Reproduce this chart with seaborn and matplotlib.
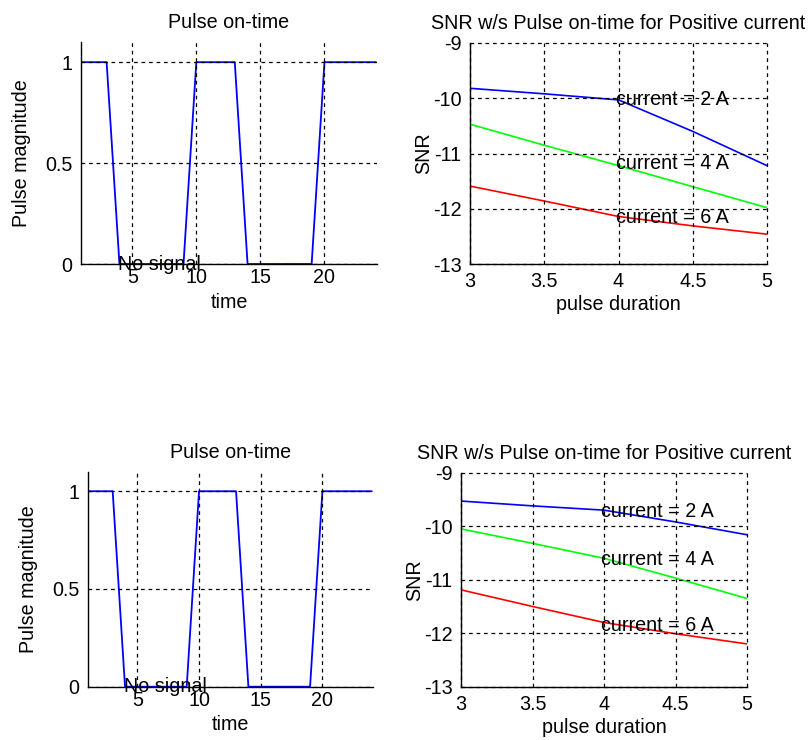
import numpy as np
import pandas as pd
import matplotlib
matplotlib.use("Agg")
import matplotlib.pyplot as plt
import seaborn as sns

# pulse on-time data (same in both rows)
pulse_t = [1, 3, 4, 9, 10, 13, 14, 19, 20, 24]
pulse_mag = [1, 1, 0, 0, 1, 1, 0, 0, 1, 1]

# SNR vs pulse duration
duration = [3, 3.5, 4, 4.5, 5]
snr_top_2A = [-9.82, -9.92, -10.03, -10.60, -11.22]
snr_top_4A = [-10.47, -10.85, -11.22, -11.60, -11.98]
snr_top_6A = [-11.59, -11.86, -12.14, -12.31, -12.46]
snr_bot_2A = [-9.53, -9.62, -9.70, -9.92, -10.16]
snr_bot_4A = [-10.05, -10.32, -10.60, -10.97, -11.35]
snr_bot_6A = [-11.19, -11.50, -11.80, -12.01, -12.20]
labels = ["current = 2 A", "current = 4 A", "current = 6 A"]
label_y_top = [-10.02, -11.19, -12.15]
label_y_bot = [-9.72, -10.62, -11.85]

FS = 14.2

sns.set_style("white")
plt.rcParams['font.family'] = ['Liberation Sans', 'DejaVu Sans']
plt.rcParams['font.size'] = FS
plt.rcParams['axes.unicode_minus'] = False
plt.rcParams['text.color'] = 'black'
plt.rcParams['axes.labelcolor'] = 'black'
plt.rcParams['xtick.color'] = 'black'
plt.rcParams['ytick.color'] = 'black'

fig = plt.figure(figsize=(8.09, 7.4), dpi=100)
pos = [
    [81/809, 1-264/740, 296/809, 222/740],
    [470/809, 1-264/740, 297/809, 221/740],
    [88/809, 1-686.7/740, 285/809, 215/740],
    [461/809, 1-686.7/740, 286/809, 214/740],
]
axes = [fig.add_axes(p) for p in pos]


def style(ax, xpad):
    ax.grid(True, color='black', linestyle=(0, (3, 3)), linewidth=0.9)
    ax.set_axisbelow(False)
    for s in ['top', 'right']:
        ax.spines[s].set_visible(False)
    for s in ['left', 'bottom']:
        ax.spines[s].set_color('black')
        ax.spines[s].set_linewidth(1.0)
    ax.tick_params(direction='in', length=0, labelsize=FS, colors='black')
    ax.tick_params(axis='x', pad=xpad)
    ax.tick_params(axis='y', pad=6)


def pulse_plot(ax):
    df = pd.DataFrame({"time": pulse_t, "mag": pulse_mag})
    sns.lineplot(data=df, x="time", y="mag", ax=ax, color='#0000ff', linewidth=1.3,
                 sort=False, estimator=None)
    ax.set_xlim(1, 24.1)
    ax.set_ylim(0, 1.1)
    ax.set_xticks([5, 10, 15, 20])
    ax.set_yticks([0, 0.5, 1])
    ax.set_yticklabels(["0", "0.5", "1"])
    ax.set_title("Pulse on-time", fontsize=FS, pad=10, color='black')
    ax.set_xlabel("time", fontsize=FS, labelpad=4)
    ax.set_ylabel("Pulse magnitude", fontsize=FS, labelpad=10)
    ax.text(3.9, 0, "No signal", fontsize=FS, va='center', ha='left', color='black')
    style(ax, 3)


def snr_plot(ax, s2, s4, s6, ly):
    df = pd.DataFrame({
        "duration": duration * 3,
        "snr": s2 + s4 + s6,
        "current": [labels[0]] * 5 + [labels[1]] * 5 + [labels[2]] * 5,
    })
    sns.lineplot(data=df, x="duration", y="snr", hue="current", ax=ax,
                 palette=['#0000ff', '#00ff00', '#ff0000'], linewidth=1.2,
                 legend=False)
    ax.set_xlim(3, 5)
    ax.set_ylim(-13, -9)
    ax.set_xticks([3, 3.5, 4, 4.5, 5])
    ax.set_xticklabels(["3", "3.5", "4", "4.5", "5"])
    ax.set_yticks([-13, -12, -11, -10, -9])
    ax.set_title("SNR w/s Pulse on-time for Positive current", fontsize=FS, pad=10,
                 color='black')
    ax.set_xlabel("pulse duration", fontsize=FS, labelpad=3)
    ax.set_ylabel("SNR", fontsize=FS, labelpad=0)
    for lab, y in zip(labels, ly):
        ax.text(3.98, y, lab, fontsize=FS, va='center', ha='left', color='black')
    style(ax, 6)
    for gl in ax.get_xgridlines() + ax.get_ygridlines():
        gl.set_clip_on(False)


pulse_plot(axes[0])
snr_plot(axes[1], snr_top_2A, snr_top_4A, snr_top_6A, label_y_top)
pulse_plot(axes[2])
snr_plot(axes[3], snr_bot_2A, snr_bot_4A, snr_bot_6A, label_y_bot)

fig.savefig("out.png", dpi=100, facecolor='white')
